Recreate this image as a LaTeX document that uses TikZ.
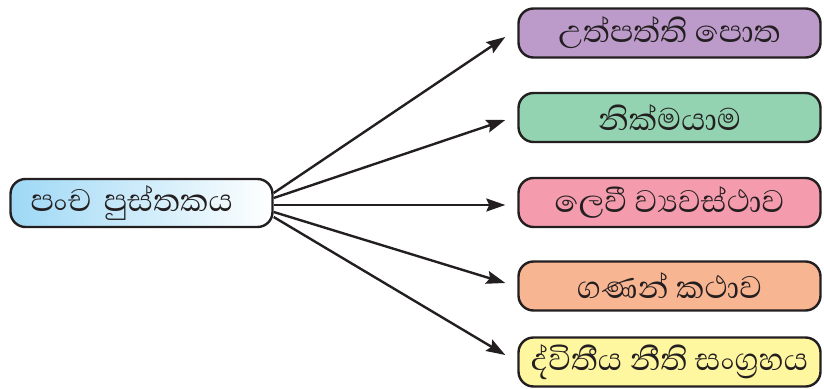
\documentclass[tikz,border=0pt]{standalone}
\usepackage{fontspec}
\newfontfamily\sinhala[Script=Sinhala]{Abhaya Libre}
\usetikzlibrary{arrows.meta}
\definecolor{inkgray}{HTML}{231F20}
\definecolor{genpurple}{HTML}{BC9BCB}
\definecolor{exogreen}{HTML}{93D3B1}
\definecolor{levpink}{HTML}{F49CAE}
\definecolor{numorange}{HTML}{F8B592}
\definecolor{deuyellow}{HTML}{FFF6A0}
\definecolor{skyblue}{HTML}{9ED8F5}
\begin{document}
\begin{tikzpicture}[x=1pt,y=-1pt,
  book/.style={draw=inkgray,line width=2.4pt,rounded corners=15pt,
    minimum width=302pt,minimum height=49pt,inner sep=0pt,
    font=\sinhala\fontsize{40}{44}\selectfont,text=inkgray},
  link/.style={draw=inkgray,line width=2.4pt,
    -{Stealth[length=19pt,width=13pt,inset=3pt]}}]
  \useasboundingbox (0,0) rectangle (824,388);
  % the five books
  \node[book,fill=genpurple]  (gen) at (669.5,33)  {උත්පත්ති පොත};
  \node[book,fill=exogreen]   (exo) at (669.5,117.5) {නික්මයාම};
  \node[book,fill=levpink]    (lev) at (669.5,202.5) {ලෙවී ව්‍යවස්ථාව};
  \node[book,fill=numorange]  (num) at (669.5,286) {ගණන් කථාව};
  \node[book,fill=deuyellow]  (deu) at (669.5,362) {ද්විතීය නීති සංග්‍රහය};
  % pentateuch
  \node[book,minimum width=262pt,minimum height=48pt,inner xsep=20pt,
    text width=222pt,align=left,
    left color=skyblue,right color=white] (pancha) at (141.5,203) {පංච පුස්තකය};
  \foreach \name/\sy/\ey in {gen/10/-4,exo/5/-2.5,lev/-2/-2.5,num/-9/3,deu/-14/7} {
    \draw[link] ([yshift=\sy pt]pancha.east) -- ([xshift=-12pt,yshift=\ey pt]\name.west);
  }
\end{tikzpicture}
\end{document}
